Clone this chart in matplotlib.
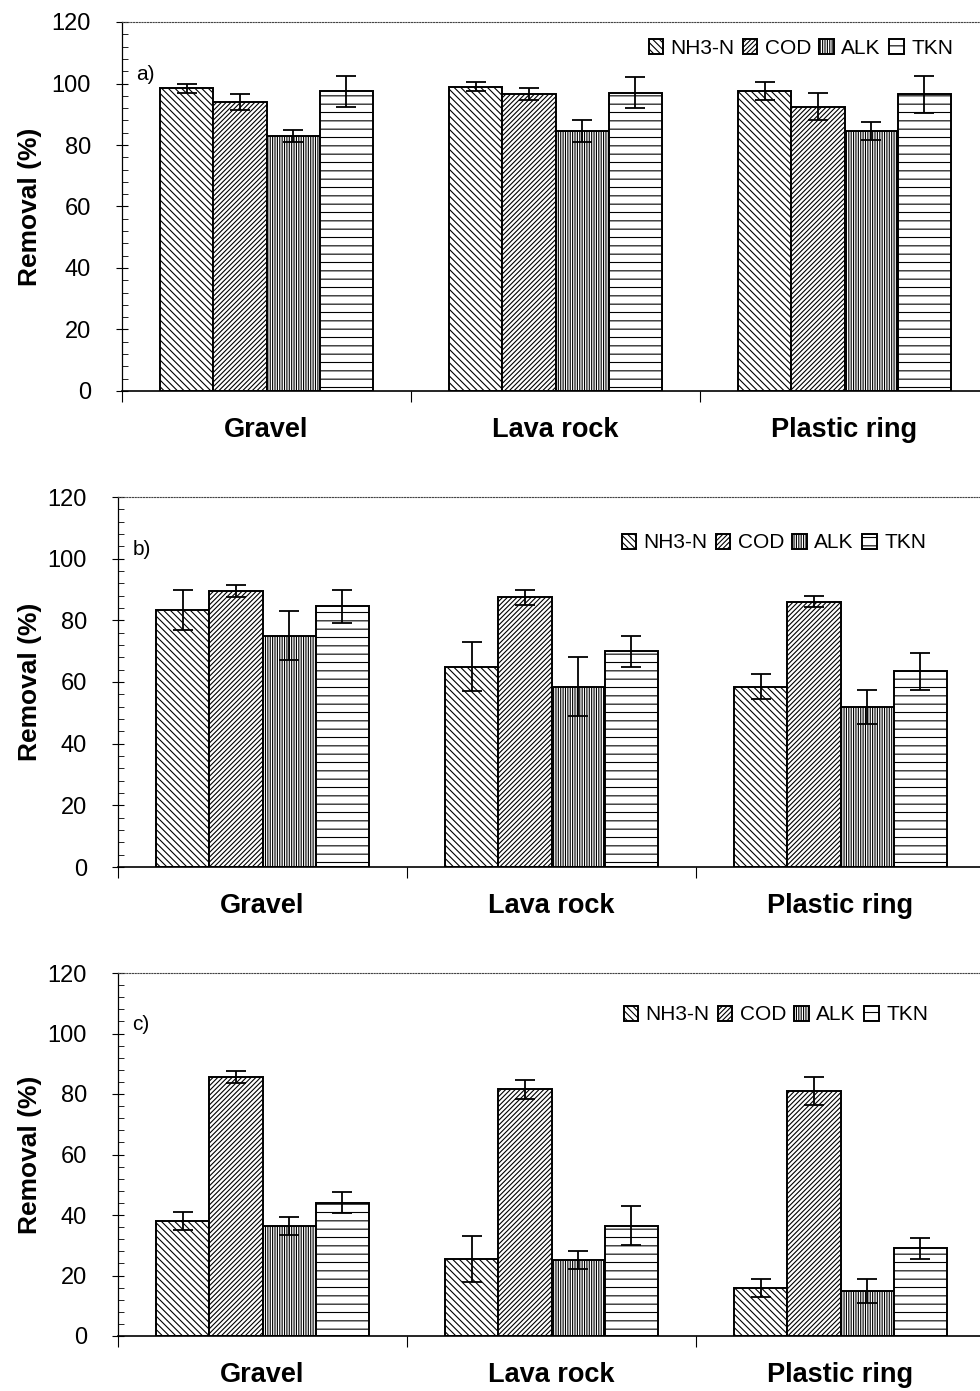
import numpy as np
import matplotlib.pyplot as plt
from matplotlib.ticker import MultipleLocator, FixedLocator, NullFormatter

plt.rcParams['font.family'] = ['Liberation Sans', 'DejaVu Sans']
plt.rcParams['hatch.linewidth'] = 0.8

media = ['Gravel', 'Lava rock', 'Plastic ring']
params = ['NH3-N', 'COD', 'ALK', 'TKN']
hatches = ['\\\\\\\\\\', '///////', '|||||||', '--']
panel_tags = ['a)', 'b)', 'c)']

# removal (%) per medium, one list per parameter
nh3_a = [98.5, 99.0, 97.5]
cod_a = [94.0, 96.5, 92.5]
alk_a = [83.0, 84.5, 84.5]
tkn_a = [97.5, 97.0, 96.5]
nh3_a_err = [1.5, 1.5, 3.0]
cod_a_err = [2.5, 2.0, 4.5]
alk_a_err = [2.0, 3.5, 3.0]
tkn_a_err = [5.0, 5.0, 6.0]

nh3_b = [83.5, 65.0, 58.5]
cod_b = [89.5, 87.5, 86.0]
alk_b = [75.0, 58.5, 52.0]
tkn_b = [84.5, 70.0, 63.5]
nh3_b_err = [6.5, 8.0, 4.0]
cod_b_err = [1.8, 2.5, 1.8]
alk_b_err = [8.0, 9.5, 5.5]
tkn_b_err = [5.5, 5.0, 6.0]

nh3_c = [38.0, 25.5, 16.0]
cod_c = [85.5, 81.5, 81.0]
alk_c = [36.5, 25.0, 15.0]
tkn_c = [44.0, 36.5, 29.0]
nh3_c_err = [3.0, 7.5, 3.0]
cod_c_err = [2.0, 3.0, 4.5]
alk_c_err = [3.0, 3.0, 4.0]
tkn_c_err = [3.5, 6.5, 3.5]

panels = [
    ([nh3_a, cod_a, alk_a, tkn_a], [nh3_a_err, cod_a_err, alk_a_err, tkn_a_err]),
    ([nh3_b, cod_b, alk_b, tkn_b], [nh3_b_err, cod_b_err, alk_b_err, tkn_b_err]),
    ([nh3_c, cod_c, alk_c, tkn_c], [nh3_c_err, cod_c_err, alk_c_err, tkn_c_err]),
]

fig = plt.figure(figsize=(9.8, 13.91), dpi=100)
W, H = 980.0, 1391.0
# pixel boxes: left, top, bottom of each plot area
boxes = [(122, 22, 391), (118, 497, 867), (118, 973, 1336)]
legend_pos = [(953, 48), (926, 543), (928, 1015)]
group_px = 289.0

x = np.arange(len(media)) + 0.5
bw = 0.184

for (vals, errs), (lx, ty, by), tag, (gx, gy) in zip(panels, boxes, panel_tags, legend_pos):
    ax = fig.add_axes([lx / W, 1 - by / H, 3 * group_px / W, (by - ty) / H])
    handles = []
    for i, (v, e, h, name) in enumerate(zip(vals, errs, hatches, params)):
        b = ax.bar(x + (i - 1.5) * bw, v, bw, color='white', edgecolor='black',
                   linewidth=1.4, hatch=h, label=name,
                   yerr=e, error_kw=dict(ecolor='black', elinewidth=1.3,
                                         capsize=7, capthick=1.3))
        handles.append(b)
    ax.set_xlim(0, 3)
    ax.set_ylim(0, 120)

    ax.yaxis.set_major_locator(MultipleLocator(20))
    ax.yaxis.set_minor_locator(MultipleLocator(4))
    ax.tick_params(axis='y', which='major', direction='inout', length=9,
                   width=0.8, labelsize=17, pad=18)
    ax.tick_params(axis='y', which='minor', direction='in', length=4, width=0.6)

    ax.xaxis.set_major_locator(FixedLocator([0, 1, 2, 3]))
    ax.xaxis.set_major_formatter(NullFormatter())
    ax.xaxis.set_minor_locator(FixedLocator(x))
    ax.set_xticklabels(media, minor=True)
    ax.tick_params(axis='x', which='major', direction='out', length=8, width=0.8)
    ax.tick_params(axis='x', which='minor', length=0, pad=19)
    for t in ax.xaxis.get_minorticklabels():
        t.set_fontsize(19.5)
        t.set_fontweight('bold')

    ax.spines['top'].set_linestyle((0, (1, 1.5)))
    ax.spines['top'].set_linewidth(0.8)
    ax.spines['top'].set_color('#444444')
    ax.spines['right'].set_visible(False)
    ax.spines['left'].set_linewidth(0.9)
    ax.spines['bottom'].set_linewidth(1.2)

    ax.set_ylabel('Removal (%)', fontsize=19, fontweight='bold')
    ax.yaxis.set_label_coords(42 / W, 1 - (ty + by) / 2 / H, transform=fig.transFigure)
    ax.text(0.05, 103, tag, fontsize=15, va='center')

    ax.legend(handles=handles, loc='center right',
              bbox_to_anchor=(gx / W, 1 - gy / H), bbox_transform=fig.transFigure,
              ncol=4, frameon=False, fontsize=15, handlelength=0.7,
              handleheight=0.7, handletextpad=0.35, columnspacing=0.4,
              borderaxespad=0, borderpad=0)

fig.savefig('out.png', dpi=100)
